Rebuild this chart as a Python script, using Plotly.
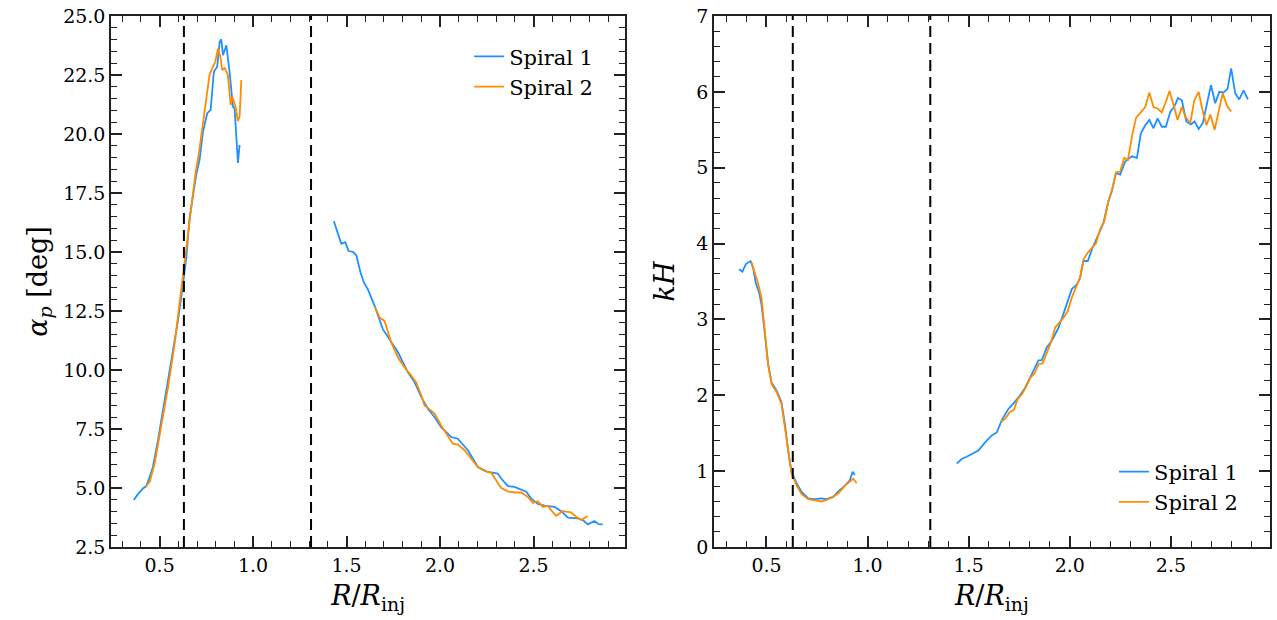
import plotly.graph_objects as go

# ---------------- data ----------------
# Left panel: pitch angle alpha_p [deg]
alpha_s1_in_r = [0.362, 0.384, 0.411, 0.429, 0.447, 0.464, 0.491, 0.527, 0.563, 0.598, 0.625, 0.643, 0.660, 0.678,
                 0.696, 0.714, 0.732, 0.755, 0.773, 0.790, 0.808, 0.821, 0.830, 0.839, 0.857, 0.874, 0.892, 0.901,
                 0.919, 0.928]
alpha_s1_in_v = [4.49, 4.74, 4.98, 5.08, 5.47, 5.89, 7.02, 8.71, 10.25, 12.08, 13.63, 14.76, 16.44, 17.29,
                 18.28, 18.91, 20.10, 20.88, 21.02, 22.64, 22.85, 23.90, 24.01, 23.34, 23.76, 22.64, 21.16, 21.09,
                 18.77, 19.54]
alpha_s2_in_r = [0.424, 0.447, 0.473, 0.509, 0.545, 0.580, 0.607, 0.630, 0.648, 0.666, 0.691, 0.709, 0.732, 0.750,
                 0.767, 0.785, 0.798, 0.812, 0.825, 0.835, 0.848, 0.865, 0.880, 0.889, 0.906, 0.919, 0.928, 0.937]
alpha_s2_in_v = [5.05, 5.26, 6.03, 7.58, 9.27, 11.10, 12.79, 14.48, 15.60, 16.73, 18.28, 19.12, 20.39, 21.37,
                 22.50, 22.85, 23.06, 23.62, 23.27, 22.71, 22.80, 22.50, 21.23, 21.58, 21.16, 20.55, 20.74, 22.29]

alpha_s1_out_r = [1.432, 1.454, 1.472, 1.493, 1.511, 1.534, 1.552, 1.575, 1.593, 1.614, 1.650, 1.694, 1.730, 1.775,
                  1.828, 1.864, 1.900, 1.935, 1.971, 2.006, 2.060, 2.095, 2.149, 2.202, 2.256, 2.309, 2.327, 2.363,
                  2.398, 2.434, 2.461, 2.487, 2.523, 2.559, 2.612, 2.648, 2.684, 2.737, 2.764, 2.790, 2.826, 2.848,
                  2.870]
alpha_s1_out_v = [16.30, 15.74, 15.35, 15.42, 15.04, 15.01, 14.86, 14.12, 13.70, 13.42, 12.72, 11.73, 11.31, 10.75,
                  9.90, 9.48, 8.85, 8.36, 8.00, 7.58, 7.16, 7.09, 6.60, 5.89, 5.68, 5.61, 5.40, 5.08,
                  5.05, 4.91, 4.84, 4.56, 4.32, 4.25, 4.20, 4.02, 3.74, 3.71, 3.64, 3.46, 3.60, 3.47,
                  3.46]
alpha_s2_out_r = [1.653, 1.677, 1.703, 1.721, 1.739, 1.775, 1.810, 1.846, 1.872, 1.900, 1.917, 1.944, 1.971, 2.006,
                  2.042, 2.068, 2.095, 2.131, 2.167, 2.202, 2.238, 2.274, 2.300, 2.327, 2.363, 2.398, 2.434, 2.470,
                  2.496, 2.523, 2.550, 2.577, 2.594, 2.621, 2.656, 2.701, 2.728, 2.755, 2.790]
alpha_s2_out_v = [12.64, 12.22, 12.08, 11.66, 11.17, 10.53, 10.11, 9.76, 9.48, 8.92, 8.50, 8.33, 8.15, 7.65,
                  7.23, 6.88, 6.84, 6.60, 6.24, 5.89, 5.72, 5.64, 5.33, 5.00, 4.86, 4.81, 4.81, 4.62,
                  4.37, 4.44, 4.20, 4.25, 4.06, 3.82, 4.02, 3.97, 3.78, 3.64, 3.81]

# Right panel: kH
kh_s1_in_r = [0.364, 0.381, 0.398, 0.421, 0.434, 0.447, 0.464, 0.475, 0.492, 0.508, 0.525, 0.550, 0.574, 0.591,
              0.607, 0.624, 0.649, 0.673, 0.706, 0.739, 0.772, 0.797, 0.830, 0.854, 0.888, 0.912, 0.926, 0.937]
kh_s1_in_v = [3.66, 3.63, 3.73, 3.77, 3.68, 3.48, 3.35, 3.20, 2.81, 2.41, 2.17, 2.06, 1.91, 1.62,
              1.27, 0.99, 0.84, 0.73, 0.64, 0.63, 0.64, 0.63, 0.66, 0.73, 0.81, 0.88, 0.99, 0.95]
kh_s2_in_r = [0.426, 0.442, 0.458, 0.475, 0.492, 0.508, 0.525, 0.550, 0.574, 0.591, 0.607, 0.624, 0.649, 0.673,
              0.706, 0.739, 0.772, 0.797, 0.830, 0.854, 0.888, 0.912, 0.929, 0.946]
kh_s2_in_v = [3.75, 3.62, 3.48, 3.29, 2.81, 2.41, 2.15, 2.04, 1.89, 1.58, 1.23, 0.97, 0.81, 0.70,
              0.63, 0.61, 0.60, 0.62, 0.66, 0.70, 0.81, 0.86, 0.90, 0.84]

kh_s1_out_r = [1.441, 1.465, 1.490, 1.515, 1.548, 1.581, 1.614, 1.639, 1.663, 1.696, 1.721, 1.754, 1.779, 1.812,
               1.845, 1.861, 1.886, 1.911, 1.944, 1.968, 1.985, 2.010, 2.035, 2.051, 2.067, 2.089, 2.109, 2.134,
               2.166, 2.191, 2.208, 2.228, 2.249, 2.274, 2.307, 2.332, 2.351, 2.373, 2.393, 2.414, 2.434, 2.455,
               2.475, 2.497, 2.516, 2.535, 2.554, 2.576, 2.599, 2.617, 2.637, 2.658, 2.678, 2.698, 2.719, 2.739,
               2.760, 2.780, 2.798, 2.818, 2.838, 2.859, 2.881]
kh_s1_out_v = [1.10, 1.16, 1.19, 1.22, 1.27, 1.38, 1.47, 1.51, 1.67, 1.82, 1.89, 2.00, 2.10, 2.28,
               2.46, 2.46, 2.63, 2.72, 2.89, 3.07, 3.20, 3.40, 3.46, 3.55, 3.77, 3.77, 3.92, 4.07,
               4.27, 4.56, 4.69, 4.93, 4.91, 5.08, 5.15, 5.13, 5.45, 5.56, 5.63, 5.52, 5.65, 5.54,
               5.54, 5.74, 5.80, 5.92, 5.89, 5.61, 5.57, 5.61, 5.51, 5.59, 5.85, 6.09, 5.85, 6.00,
               5.99, 6.04, 6.31, 5.98, 5.90, 6.02, 5.90]
kh_s2_out_r = [1.660, 1.680, 1.704, 1.724, 1.742, 1.765, 1.787, 1.807, 1.825, 1.845, 1.866, 1.886, 1.907, 1.927,
               1.949, 1.968, 1.990, 2.010, 2.030, 2.051, 2.067, 2.089, 2.109, 2.129, 2.150, 2.170, 2.191, 2.211,
               2.229, 2.249, 2.269, 2.287, 2.310, 2.328, 2.351, 2.373, 2.393, 2.414, 2.434, 2.455, 2.475, 2.493,
               2.513, 2.533, 2.554, 2.574, 2.596, 2.615, 2.637, 2.656, 2.676, 2.695, 2.716, 2.736, 2.756, 2.777,
               2.798]
kh_s2_out_v = [1.65, 1.69, 1.78, 1.81, 1.95, 2.02, 2.13, 2.24, 2.28, 2.41, 2.42, 2.56, 2.70, 2.89,
               2.96, 3.02, 3.11, 3.29, 3.42, 3.55, 3.79, 3.88, 3.94, 4.00, 4.19, 4.29, 4.56, 4.73,
               4.94, 4.95, 5.13, 5.10, 5.45, 5.66, 5.73, 5.80, 5.99, 5.80, 5.78, 5.73, 5.87, 6.01,
               5.83, 5.63, 5.80, 5.66, 5.59, 5.88, 6.00, 5.76, 5.56, 5.70, 5.50, 5.76, 5.98, 5.82,
               5.74]

boundaries = [0.63, 1.31]
series_names = ["Spiral 1", "Spiral 2"]
colors = ["#1E90FF", "#FF8C00"]

# ---------------- figure ----------------
FONT = "DejaVu Serif"
fig = go.Figure()

def add_pair(xa, ya, r_in, v_in, r_out, v_out, name, color, legend, show):
    fig.add_trace(go.Scatter(x=r_in, y=v_in, mode="lines", name=name, legendgroup=legend + name,
                             line=dict(color=color, width=1.8), xaxis=xa, yaxis=ya,
                             legend=legend, showlegend=show))
    fig.add_trace(go.Scatter(x=r_out, y=v_out, mode="lines", name=name, legendgroup=legend + name,
                             line=dict(color=color, width=1.8), xaxis=xa, yaxis=ya,
                             legend=legend, showlegend=False))

add_pair("x", "y", alpha_s1_in_r, alpha_s1_in_v, alpha_s1_out_r, alpha_s1_out_v, series_names[0], colors[0], "legend", True)
add_pair("x", "y", alpha_s2_in_r, alpha_s2_in_v, alpha_s2_out_r, alpha_s2_out_v, series_names[1], colors[1], "legend", True)
add_pair("x2", "y2", kh_s1_in_r, kh_s1_in_v, kh_s1_out_r, kh_s1_out_v, series_names[0], colors[0], "legend2", True)
add_pair("x2", "y2", kh_s2_in_r, kh_s2_in_v, kh_s2_out_r, kh_s2_out_v, series_names[1], colors[1], "legend2", True)

for xr, yr in (("x", "y"), ("x2", "y2")):
    for b in boundaries:
        fig.add_shape(type="line", x0=b, x1=b, y0=0, y1=1, xref=xr, yref=yr + " domain",
                      line=dict(color="black", width=2, dash="11px,6px"))

axis_common = dict(
    showline=True, linecolor="#222", linewidth=1.5, mirror="ticks",
    ticks="inside", ticklen=11, tickwidth=1.5, tickcolor="#222",
    showgrid=False, zeroline=False,
    tickfont=dict(family=FONT, size=19, color="black"),
)
xtitle = dict(text="<i>R</i>/<i>R</i><sub>inj</sub>", font=dict(family=FONT, size=27, color="black"), standoff=12)

fig.update_layout(
    width=1277, height=620,
    margin=dict(l=111, r=5, t=14, b=73),
    paper_bgcolor="white", plot_bgcolor="white",
    xaxis=dict(domain=[0, 0.4436], range=[0.24, 2.99], tickvals=[0.5, 1.0, 1.5, 2.0, 2.5],
               ticktext=["0.5", "1.0", "1.5", "2.0", "2.5"], anchor="y",
               minor=dict(dtick=0.1, tick0=0, ticks="inside", ticklen=6, tickwidth=1.2, tickcolor="#222"),
               title=xtitle, **axis_common),
    yaxis=dict(domain=[0, 1], range=[2.5, 25.0], dtick=2.5, tickformat=".1f", anchor="x",
               minor=dict(dtick=0.5, tick0=0, ticks="inside", ticklen=6, tickwidth=1.2, tickcolor="#222"),
               title=dict(text="<i>α</i><sub><i>p</i></sub> [deg]", font=dict(family=FONT, size=27, color="black"),
                          standoff=8),
               **axis_common),
    xaxis2=dict(domain=[0.5202, 1], range=[0.24, 2.99], tickvals=[0.5, 1.0, 1.5, 2.0, 2.5],
                ticktext=["0.5", "1.0", "1.5", "2.0", "2.5"], anchor="y2",
                minor=dict(dtick=0.1, tick0=0, ticks="inside", ticklen=6, tickwidth=1.2, tickcolor="#222"),
                title=xtitle, **axis_common),
    yaxis2=dict(domain=[0, 1], range=[0, 7], dtick=1, anchor="x2",
                minor=dict(dtick=0.2, tick0=0, ticks="inside", ticklen=6, tickwidth=1.2, tickcolor="#222"),
                title=dict(text="<i>kH</i>", font=dict(family=FONT, size=27, color="black"), standoff=14),
                **axis_common),
    legend=dict(x=0.4203, y=0.962, xanchor="right", yanchor="top", bgcolor="rgba(0,0,0,0)",
                font=dict(family=FONT, size=21, color="black"), tracegroupgap=0),
    legend2=dict(x=0.9767, y=0.18, xanchor="right", yanchor="top", bgcolor="rgba(0,0,0,0)",
                 font=dict(family=FONT, size=21, color="black"), tracegroupgap=0),
)

fig.write_html("out.html")
